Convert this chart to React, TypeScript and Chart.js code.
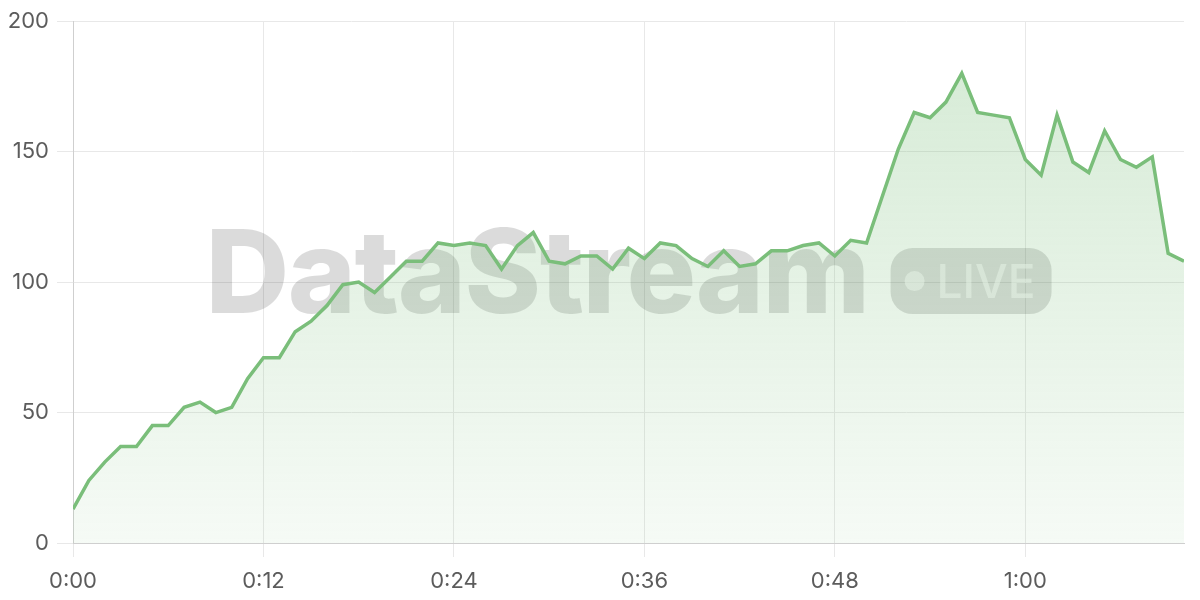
import React, { useEffect, useRef } from "react";
import { Chart, registerables } from "chart.js";

Chart.register(...registerables);

const minutes: number[] = [
  0, 1, 2, 3, 4, 5, 6, 7, 8, 9, 10, 11, 12, 13, 14, 15, 16, 17, 18, 19, 20,
  21, 22, 23, 24, 25, 26, 27, 28, 29, 30, 31, 32, 33, 34, 35, 36, 37, 38, 39,
  40, 41, 42, 43, 44, 45, 46, 47, 48, 49, 50, 51, 52, 53, 54, 55, 56, 57, 58,
  59, 60, 61, 62, 63, 64, 65, 66, 67, 68, 69, 70,
];

const viewers: number[] = [
  13, 24, 31, 37, 37, 45, 45, 52, 54, 50, 52, 63, 71, 71, 81, 85, 91, 99, 100,
  96, 102, 108, 108, 115, 114, 115, 114, 105, 114, 119, 108, 107, 110, 110, 105,
  113, 109, 115, 114, 109, 106, 112, 106, 107, 112, 112, 114, 115, 110, 116,
  115, 133, 151, 165, 163, 169, 180, 165, 164, 163, 147, 141, 164, 146, 142,
  158, 147, 144, 148, 111, 108,
];

const yTicks: number[] = [0, 50, 100, 150, 200];
const xTickStep = 12;
const watermarkText = "DataStream";
const badgeText = "LIVE";

const FONT = "Inter, 'Noto Sans', sans-serif";

function fmtTime(m: number) {
  const h = Math.floor(m / 60);
  const mm = Math.round(m % 60);
  return `${h}:${String(mm).padStart(2, "0")}`;
}

const watermarkPlugin = {
  id: "watermark",
  beforeDatasetsDraw(chart: any) {
    const { ctx, chartArea } = chart;
    const cx = (chartArea.left + chartArea.right) / 2;
    const cy = (chartArea.top + chartArea.bottom) / 2;
    ctx.save();
    ctx.font = `800 116px ${FONT}`;
    try {
      ctx.letterSpacing = "-1.5px";
    } catch (e) {}
    const tw = ctx.measureText(watermarkText).width;
    const gap = 22;
    const pillW = 161;
    const pillH = 66;
    const total = tw + gap + pillW;
    const startX = cx - total / 2;
    ctx.fillStyle = "rgba(0,0,0,0.14)";
    ctx.textBaseline = "alphabetic";
    ctx.textAlign = "left";
    ctx.fillText(watermarkText, startX, cy + 31);
    try {
      ctx.letterSpacing = "0px";
    } catch (e) {}
    // pill
    const px = startX + tw + gap;
    const py = cy - pillH / 2 - 1;
    const r = 22;
    ctx.beginPath();
    ctx.moveTo(px + r, py);
    ctx.lineTo(px + pillW - r, py);
    ctx.arcTo(px + pillW, py, px + pillW, py + r, r);
    ctx.lineTo(px + pillW, py + pillH - r);
    ctx.arcTo(px + pillW, py + pillH, px + pillW - r, py + pillH, r);
    ctx.lineTo(px + r, py + pillH);
    ctx.arcTo(px, py + pillH, px, py + pillH - r, r);
    ctx.lineTo(px, py + r);
    ctx.arcTo(px, py, px + r, py, r);
    ctx.closePath();
    ctx.fill();
    ctx.fillStyle = "rgba(255,255,255,0.55)";
    ctx.beginPath();
    ctx.arc(px + 24, py + pillH / 2, 10, 0, Math.PI * 2);
    ctx.fill();
    ctx.font = `500 46px ${FONT}`;
    ctx.fillText(badgeText, px + 46, py + pillH / 2 + 17);
    ctx.restore();
  },
};

export default function App() {
  const canvasRef = useRef<HTMLCanvasElement | null>(null);

  useEffect(() => {
    document.body.style.margin = "0";
    const canvas = canvasRef.current;
    if (!canvas) return;
    const chart = new Chart(canvas, {
      type: "line",
      data: {
        labels: minutes,
        datasets: [
          {
            data: minutes.map((m, i) => ({ x: m, y: viewers[i] })),
            borderColor: "rgb(122,190,122)",
            borderWidth: 3.5,
            pointRadius: 0,
            tension: 0,
            fill: "origin",
            backgroundColor: (ctx: any) => {
              const area = ctx.chart.chartArea;
              if (!area) return "rgba(122,190,122,0.2)";
              const g = ctx.chart.ctx.createLinearGradient(0, area.top, 0, area.bottom);
              g.addColorStop(0, "rgba(122,190,122,0.32)");
              g.addColorStop(1, "rgba(122,190,122,0.07)");
              return g;
            },
          },
        ],
      },
      options: {
        animation: false,
        responsive: true,
        maintainAspectRatio: false,
        layout: { padding: { top: 20, right: 16, left: 0, bottom: 0 } },
        plugins: { legend: { display: false }, tooltip: { enabled: false } },
        scales: {
          x: {
            type: "linear",
            min: minutes[0],
            max: minutes[minutes.length - 1],
            afterFit: (s: any) => {
              s.height = 57;
            },
            ticks: {
              stepSize: xTickStep,
              includeBounds: false,
              callback: (v: any) => fmtTime(Number(v)),
              color: "#5c5c5c",
              font: { family: FONT, size: 22 },
              padding: 11,
              maxRotation: 0,
            },
            grid: { color: "#e8e8e8", tickLength: 14, lineWidth: 1 },
            border: { color: "#cfcfcf", width: 1 },
          },
          y: {
            min: yTicks[0],
            max: yTicks[yTicks.length - 1],
            afterFit: (s: any) => {
              s.width = 73;
            },
            afterBuildTicks: (s: any) => {
              s.ticks = yTicks.map((v) => ({ value: v }));
            },
            ticks: {
              color: "#5c5c5c",
              font: { family: FONT, size: 22 },
              padding: 8,
            },
            grid: { color: "#e8e8e8", tickLength: 16, lineWidth: 1 },
            border: { color: "#cfcfcf", width: 1 },
          },
        },
      },
      plugins: [watermarkPlugin],
    });
    return () => chart.destroy();
  }, []);

  return (
    <div style={{ position: "fixed", left: 0, top: 0, width: 1200, height: 600, background: "#fff" }}>
      <canvas ref={canvasRef} />
    </div>
  );
}
